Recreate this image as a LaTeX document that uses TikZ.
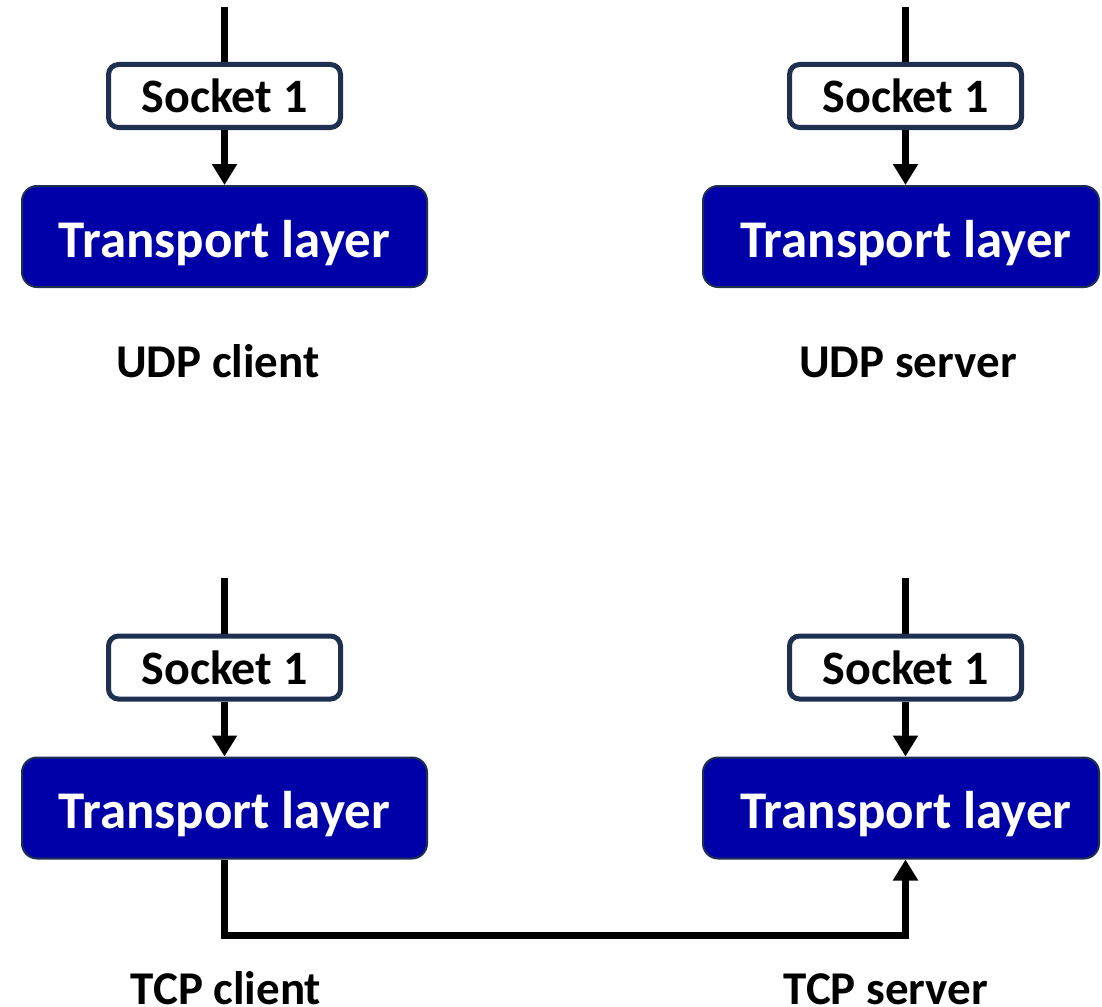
\documentclass[tikz,border=0pt]{standalone}
\usepackage{fontspec}
\setmainfont{Carlito}
\usetikzlibrary{arrows.meta}
\definecolor{layerblue}{RGB}{0,0,168}
\definecolor{framenavy}{RGB}{30,48,80}
\tikzset{
  socketbox/.style={draw=framenavy, line width=5pt, fill=white, rounded corners=10pt,
    minimum width=232pt, minimum height=63pt, inner sep=0pt,
    font=\bfseries\fontsize{48}{52}\selectfont, text=black},
  layerbox/.style={draw=framenavy, line width=2pt, fill=layerblue, rounded corners=15pt,
    minimum height=101pt, inner sep=0pt, text height=41pt, text depth=0pt,
    font=\bfseries\fontsize{53}{58}\selectfont, text=white},
  caption/.style={anchor=base, inner sep=0pt, font=\bfseries\fontsize{47}{52}\selectfont},
  wire/.style={line width=7pt, black},
  flow/.style={wire, -{Triangle[width=24pt,length=21pt]}},
}
\begin{document}
\begin{tikzpicture}[x=1pt, y=-1pt]
\useasboundingbox (0,0) rectangle (1102,1006);

% UDP client
\node[socketbox] (s1) at (224.5,96) {Socket 1};
\node[layerbox, minimum width=405pt] (t1) at (224.5,236.5) {Transport layer};
\coordinate (in1) at (224.5,7);
\node[caption] (c1) at (218,377) {UDP client};

% UDP server
\node[socketbox] (s2) at (905.5,96) {Socket 1};
\node[layerbox, minimum width=396pt] (t2) at (901,236.5) {\hspace*{10pt}Transport layer};
\coordinate (in2) at (905.5,7);
\node[caption] (c2) at (908,377) {UDP server};

% TCP client
\node[socketbox] (s3) at (224.5,667.5) {Socket 1};
\node[layerbox, minimum width=405pt] (t3) at (224.5,808) {Transport layer};
\coordinate (in3) at (224.5,578);
\node[caption] (c3) at (226,1004) {TCP client};

% TCP server
\node[socketbox] (s4) at (905.5,667.5) {Socket 1};
\node[layerbox, minimum width=396pt] (t4) at (901,808) {\hspace*{10pt}Transport layer};
\coordinate (in4) at (905.5,578);
\node[caption] (c4) at (886,1004) {TCP server};

% application side into each socket
\foreach \i in {1,2,3,4} {
  \draw[wire] (in\i) -- (s\i.north);
  \draw[flow] (s\i.south) -- (s\i.south |- t\i.north);
}

% TCP connection from client to server
\coordinate (bend) at (224.5,935.5);
\draw[wire, line join=miter, -{Triangle[width=24pt,length=21pt]}]
  (t3.south) -- (bend) -| (s4.south |- t4.south);
\end{tikzpicture}
\end{document}
